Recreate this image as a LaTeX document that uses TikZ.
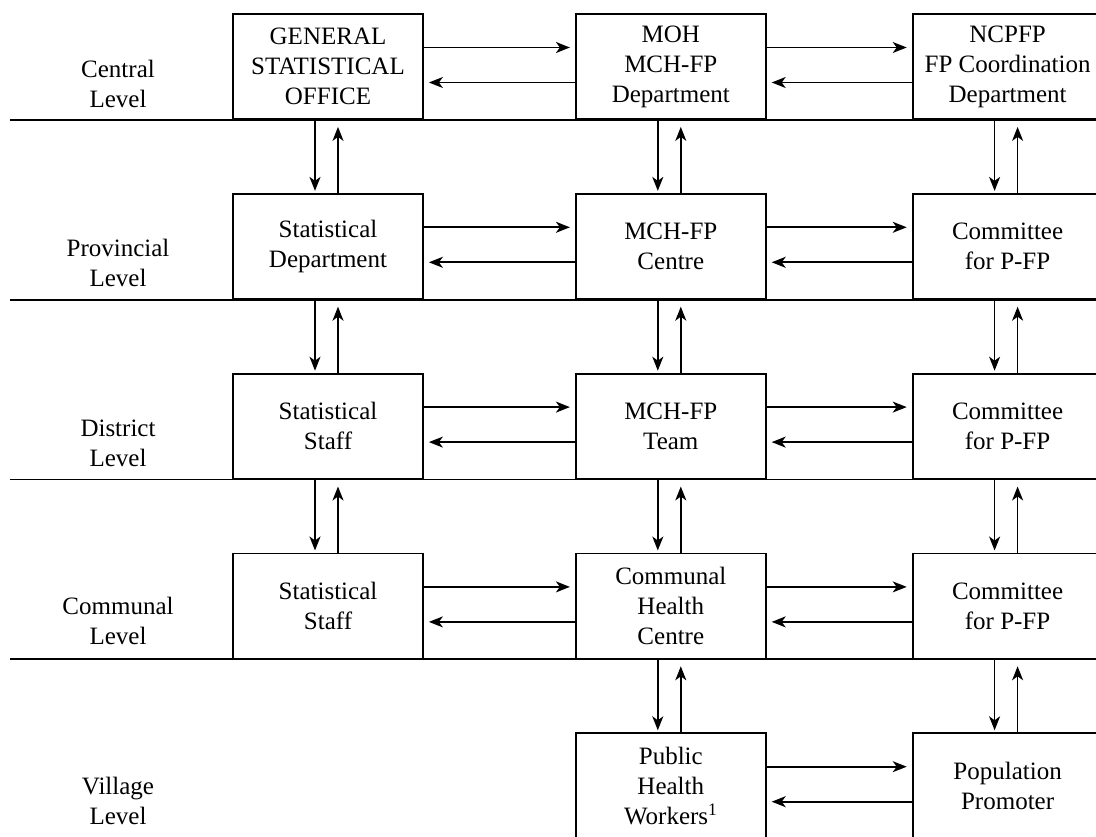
\documentclass[tikz,border=0pt]{standalone}
\usepackage{fontspec}
\setmainfont{Liberation Serif}
\usepackage{tikz}
\usetikzlibrary{arrows.meta, positioning}
\tikzset{
    orgbox/.style={rectangle, draw=black, fill=white, minimum width=190pt, minimum height=105pt, inner sep=2pt, align=center, font=\fontsize{25}{30}\selectfont, line width=1.8pt},
    levellabel/.style={align=center, font=\fontsize{25}{30}\selectfont},
    levelline/.style={line width=1.8pt},
    flowarrow/.style={-{Stealth[length=14pt, width=11pt, inset=4pt]}, line width=1.6pt, shorten >=#1},
    flowarrow/.default=5pt
}

\begin{document}
\begin{tikzpicture}[x=1pt, y=-1pt, node distance=73pt]
\useasboundingbox (0,0) rectangle (1096,837);
\clip (0,0) rectangle (1096,837);

\node[orgbox] (gso) at (328,66.5) {GENERAL\\STATISTICAL\\OFFICE};
\node[orgbox, right=151pt of gso] (moh) {MOH\\MCH-FP\\Department};
\node[orgbox, right=145pt of moh] (ncpfp) {NCPFP\\FP Coordination\\Department};

\node[orgbox, below=of gso] (stdep) {Statistical\\Department};
\node[orgbox, below=of moh] (mchc) {MCH-FP\\Centre};
\node[orgbox, below=of ncpfp] (cpfpp) {Committee\\for P-FP};

\node[orgbox, below=of stdep] (ststaffd) {Statistical\\Staff};
\node[orgbox, below=of mchc] (mcht) {MCH-FP\\Team};
\node[orgbox, below=of cpfpp] (cpfpd) {Committee\\for P-FP};

\node[orgbox, below=of ststaffd] (ststaffc) {Statistical\\Staff};
\node[orgbox, below=of mcht] (chc) {Communal\\Health\\Centre};
\node[orgbox, below=of cpfpd] (cpfpc) {Committee\\for P-FP};

\node[orgbox, below=of chc] (phw) {Public\\Health\\Workers\textsuperscript{1}};
\node[orgbox, below=of cpfpc] (popp) {Population\\Promoter};

\node[levellabel, yshift=-17pt] (lcentral) at (118,0 |- gso) {Central\\Level};
\node[levellabel, yshift=-17pt] (lprov) at (118,0 |- stdep) {Provincial\\Level};
\node[levellabel, yshift=-17pt] (ldist) at (118,0 |- ststaffd) {District\\Level};
\node[levellabel, yshift=-15pt] (lcomm) at (118,0 |- ststaffc) {Communal\\Level};
\node[levellabel, yshift=-15pt] (lvill) at (118,0 |- phw) {Village\\Level};

\draw[levelline] (10,0 |- gso.south) -- (1100,0 |- gso.south);
\draw[levelline] (10,0 |- stdep.south) -- (1100,0 |- stdep.south);
\draw[levelline] (10,0 |- ststaffd.south) -- (1100,0 |- ststaffd.south);
\draw[levelline] (10,0 |- ststaffc.south) -- (1100,0 |- ststaffc.south);

\draw[flowarrow] ([yshift=19pt]gso.east) -- ([yshift=19pt]moh.west);
\draw[flowarrow] ([yshift=-16pt]moh.west) -- ([yshift=-16pt]gso.east);
\draw[flowarrow] ([yshift=19pt]moh.east) -- ([yshift=19pt]ncpfp.west);
\draw[flowarrow] ([yshift=-16pt]ncpfp.west) -- ([yshift=-16pt]moh.east);
\draw[flowarrow] ([yshift=19pt]stdep.east) -- ([yshift=19pt]mchc.west);
\draw[flowarrow] ([yshift=-16pt]mchc.west) -- ([yshift=-16pt]stdep.east);
\draw[flowarrow] ([yshift=19pt]mchc.east) -- ([yshift=19pt]cpfpp.west);
\draw[flowarrow] ([yshift=-16pt]cpfpp.west) -- ([yshift=-16pt]mchc.east);
\draw[flowarrow] ([yshift=19pt]ststaffd.east) -- ([yshift=19pt]mcht.west);
\draw[flowarrow] ([yshift=-16pt]mcht.west) -- ([yshift=-16pt]ststaffd.east);
\draw[flowarrow] ([yshift=19pt]mcht.east) -- ([yshift=19pt]cpfpd.west);
\draw[flowarrow] ([yshift=-16pt]cpfpd.west) -- ([yshift=-16pt]mcht.east);
\draw[flowarrow] ([yshift=19pt]ststaffc.east) -- ([yshift=19pt]chc.west);
\draw[flowarrow] ([yshift=-16pt]chc.west) -- ([yshift=-16pt]ststaffc.east);
\draw[flowarrow] ([yshift=19pt]chc.east) -- ([yshift=19pt]cpfpc.west);
\draw[flowarrow] ([yshift=-16pt]cpfpc.west) -- ([yshift=-16pt]chc.east);
\draw[flowarrow] ([yshift=19pt]phw.east) -- ([yshift=19pt]popp.west);
\draw[flowarrow] ([yshift=-16pt]popp.west) -- ([yshift=-16pt]phw.east);

\draw[flowarrow=2pt] ([xshift=-13pt]gso.south) -- ([xshift=-13pt]stdep.north);
\draw[flowarrow=7pt] ([xshift=10pt]stdep.north) -- ([xshift=10pt]gso.south);
\draw[flowarrow=2pt] ([xshift=-13pt]stdep.south) -- ([xshift=-13pt]ststaffd.north);
\draw[flowarrow=7pt] ([xshift=10pt]ststaffd.north) -- ([xshift=10pt]stdep.south);
\draw[flowarrow=2pt] ([xshift=-13pt]ststaffd.south) -- ([xshift=-13pt]ststaffc.north);
\draw[flowarrow=7pt] ([xshift=10pt]ststaffc.north) -- ([xshift=10pt]ststaffd.south);
\draw[flowarrow=2pt] ([xshift=-13pt]moh.south) -- ([xshift=-13pt]mchc.north);
\draw[flowarrow=7pt] ([xshift=10pt]mchc.north) -- ([xshift=10pt]moh.south);
\draw[flowarrow=2pt] ([xshift=-13pt]mchc.south) -- ([xshift=-13pt]mcht.north);
\draw[flowarrow=7pt] ([xshift=10pt]mcht.north) -- ([xshift=10pt]mchc.south);
\draw[flowarrow=2pt] ([xshift=-13pt]mcht.south) -- ([xshift=-13pt]chc.north);
\draw[flowarrow=7pt] ([xshift=10pt]chc.north) -- ([xshift=10pt]mcht.south);
\draw[flowarrow=2pt] ([xshift=-13pt]chc.south) -- ([xshift=-13pt]phw.north);
\draw[flowarrow=7pt] ([xshift=10pt]phw.north) -- ([xshift=10pt]chc.south);
\draw[flowarrow=2pt] ([xshift=-13pt]ncpfp.south) -- ([xshift=-13pt]cpfpp.north);
\draw[flowarrow=7pt] ([xshift=10pt]cpfpp.north) -- ([xshift=10pt]ncpfp.south);
\draw[flowarrow=2pt] ([xshift=-13pt]cpfpp.south) -- ([xshift=-13pt]cpfpd.north);
\draw[flowarrow=7pt] ([xshift=10pt]cpfpd.north) -- ([xshift=10pt]cpfpp.south);
\draw[flowarrow=2pt] ([xshift=-13pt]cpfpd.south) -- ([xshift=-13pt]cpfpc.north);
\draw[flowarrow=7pt] ([xshift=10pt]cpfpc.north) -- ([xshift=10pt]cpfpd.south);
\draw[flowarrow=2pt] ([xshift=-13pt]cpfpc.south) -- ([xshift=-13pt]popp.north);
\draw[flowarrow=7pt] ([xshift=10pt]popp.north) -- ([xshift=10pt]cpfpc.south);

\end{tikzpicture}
\end{document}
